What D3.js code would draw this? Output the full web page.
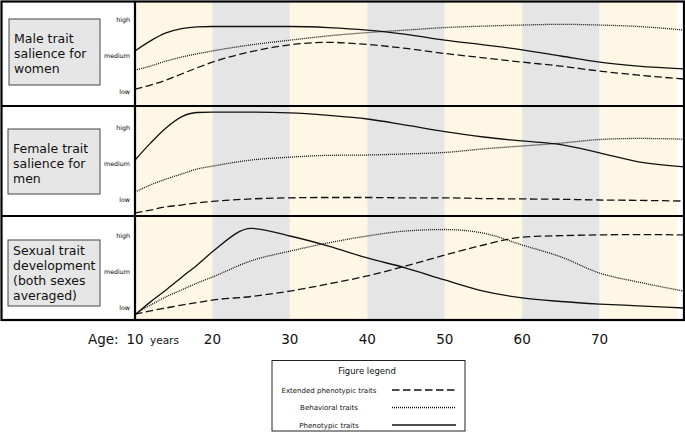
<!DOCTYPE html>
<html>
<head>
<meta charset="utf-8">
<script src="https://cdn.jsdelivr.net/npm/d3@7"></script>
<style>
  body { margin: 0; background: #fff; }
  svg text { font-family: "DejaVu Sans", Verdana, sans-serif; }
</style>
</head>
<body>
<script>
var ages = [10, 12, 14, 16, 18, 20, 25, 30, 35, 40, 45, 50, 55, 60, 65, 70, 75, 80.9];
var decades = [10, 20, 30, 40, 50, 60, 70];
var levels = ["low", "medium", "high"];

// levels: 0 = low, 1 = medium, 2 = high
var maleSolid  = [1.14, 1.42, 1.64, 1.76, 1.81, 1.82, 1.82, 1.82, 1.79, 1.72, 1.60, 1.44, 1.31, 1.17, 1.00, 0.83, 0.72, 0.64];
var maleDotted = [0.61, 0.72, 0.86, 0.97, 1.06, 1.14, 1.31, 1.44, 1.56, 1.65, 1.72, 1.79, 1.83, 1.86, 1.88, 1.86, 1.82, 1.72];
var maleDashed = [0.08, 0.19, 0.33, 0.50, 0.67, 0.83, 1.12, 1.31, 1.38, 1.32, 1.21, 1.07, 0.95, 0.83, 0.72, 0.58, 0.47, 0.36];

var femaleSolid  = [1.11, 1.58, 2.00, 2.31, 2.43, 2.44, 2.44, 2.42, 2.35, 2.25, 2.08, 1.90, 1.75, 1.64, 1.54, 1.31, 1.06, 0.92];
var femaleDotted = [0.22, 0.42, 0.58, 0.72, 0.86, 0.94, 1.11, 1.19, 1.24, 1.25, 1.28, 1.32, 1.42, 1.50, 1.58, 1.68, 1.71, 1.69];
var femaleDashed = [-0.36, -0.28, -0.19, -0.14, -0.08, -0.04, 0.03, 0.06, 0.07, 0.07, 0.06, 0.06, 0.04, 0.03, 0.02, 0.00, -0.01, -0.03];

var devSolid  = [-0.19, 0.17, 0.50, 0.85, 1.19, 1.56, 2.21, 2.00, 1.72, 1.39, 1.11, 0.78, 0.47, 0.28, 0.18, 0.11, 0.06, 0.00];
var devDotted = [-0.17, 0.08, 0.31, 0.50, 0.69, 0.86, 1.31, 1.58, 1.81, 2.00, 2.14, 2.18, 2.08, 1.75, 1.42, 0.97, 0.72, 0.47];
var devDashed = [-0.17, -0.08, 0.00, 0.08, 0.15, 0.22, 0.32, 0.47, 0.67, 0.89, 1.17, 1.47, 1.75, 1.97, 2.01, 2.03, 2.04, 2.03];

var rowTitles = [
  ["Male trait", "salience for", "women"],
  ["Female trait", "salience for", "men"],
  ["Sexual trait", "development", "(both sexes", "averaged)"]
];
var rowSeries = [
  [maleDashed, maleDotted, maleSolid],
  [femaleDashed, femaleDotted, femaleSolid],
  [devDashed, devDotted, devSolid]
];
var legendNames = ["Extended phenotypic traits", "Behavioral traits", "Phenotypic traits"];

// layout of the three rows (pixels)
var rows = [
  {top: 1,   bottom: 106, low: 92,  high: 20,  box: [9, 19, 91, 66]},
  {top: 106, bottom: 216, low: 200, high: 128, box: [8, 129, 92, 65]},
  {top: 216, bottom: 320, low: 308, high: 236, box: [8, 240, 92, 66]}
];
var styles = [
  {dash: "7.5,3.5", width: 1.3},
  {dash: "1,1", width: 1.3},
  {dash: null, width: 1.3}
];

var width = 685, height = 432;
var plotLeft = 135, plotRight = 684;

var svg = d3.select("body").append("svg")
    .attr("width", width)
    .attr("height", height);

var x = d3.scaleLinear()
    .domain([10, 80.9])
    .range([plotLeft, plotRight]);

// alternating age bands
svg.selectAll("rect.band")
    .data(decades)
    .enter().append("rect")
    .attr("class", "band")
    .attr("x", function(d){ return x(d); })
    .attr("y", 1)
    .attr("width", function(d){ return Math.min(x(d + 10), plotRight) - x(d); })
    .attr("height", 319)
    .attr("fill", function(d, i){ return i % 2 == 0 ? "#fef7e5" : "#e5e5e5"; });

rows.forEach(function(r, i){
    var y = d3.scaleLinear().domain([0, 2]).range([r.low, r.high]);

    // left label box
    svg.append("rect")
        .attr("x", r.box[0]).attr("y", r.box[1])
        .attr("width", r.box[2]).attr("height", r.box[3])
        .attr("fill", "#e6e6e6")
        .attr("stroke", "#444")
        .attr("stroke-width", 1);
    var t = svg.append("text")
        .attr("x", r.box[0] + 5)
        .attr("y", r.box[1] + 24 - (rowTitles[i].length == 4 ? 9 : 0))
        .attr("font-size", 12.5)
        .attr("fill", "#111");
    rowTitles[i].forEach(function(line, j){
        t.append("tspan")
            .attr("x", r.box[0] + 5)
            .attr("dy", j == 0 ? 0 : 15)
            .text(line);
    });

    // level labels
    svg.selectAll("text.lvl" + i)
        .data(levels)
        .enter().append("text")
        .attr("class", "lvl" + i)
        .attr("x", 130)
        .attr("y", function(d, k){ return y(k) + 2; })
        .attr("text-anchor", "end")
        .attr("font-size", 6.3)
        .attr("fill", "#000")
        .text(function(d){ return d; });

    var line = d3.line()
        .x(function(d, k){ return x(ages[k]); })
        .y(function(d){ return y(d); })
        .curve(d3.curveMonotoneX);

    var clipId = "clip" + i;
    svg.append("clipPath").attr("id", clipId)
        .append("rect")
        .attr("x", plotLeft).attr("y", r.top)
        .attr("width", plotRight - plotLeft).attr("height", r.bottom - r.top);

    svg.append("g")
        .attr("clip-path", "url(#" + clipId + ")")
        .selectAll("path")
        .data(rowSeries[i])
        .enter().append("path")
        .attr("d", line)
        .attr("fill", "none")
        .attr("stroke", "#111")
        .attr("stroke-width", function(d, k){ return styles[k].width; })
        .attr("stroke-dasharray", function(d, k){ return styles[k].dash; });
});

// frame
var frame = svg.append("g")
    .attr("stroke", "#000")
    .attr("stroke-width", 2.2)
    .attr("fill", "none");
frame.append("rect").attr("x", 1.5).attr("y", 1.5).attr("width", 682.5).attr("height", 318.5);
frame.append("line").attr("x1", plotLeft).attr("x2", plotLeft).attr("y1", 1).attr("y2", 320);
rows.slice(1).forEach(function(r){
    frame.append("line").attr("x1", 1).attr("x2", 684).attr("y1", r.top).attr("y2", r.top);
});

// age axis
svg.append("text")
    .attr("x", 88).attr("y", 344)
    .attr("font-size", 13.5)
    .attr("fill", "#111")
    .text("Age:");
svg.selectAll("text.age")
    .data(decades)
    .enter().append("text")
    .attr("class", "age")
    .attr("x", function(d){ return x(d); })
    .attr("y", 344)
    .attr("text-anchor", "middle")
    .attr("font-size", 13.5)
    .attr("fill", "#111")
    .text(function(d){ return d; });
svg.append("text")
    .attr("x", 150).attr("y", 344)
    .attr("font-size", 10.5)
    .attr("fill", "#111")
    .text("years");

// legend
var lg = svg.append("g");
lg.append("rect")
    .attr("x", 272).attr("y", 360.5)
    .attr("width", 193).attr("height", 70.5)
    .attr("fill", "#fff")
    .attr("stroke", "#222")
    .attr("stroke-width", 1);
lg.append("text")
    .attr("x", 367).attr("y", 374)
    .attr("text-anchor", "middle")
    .attr("font-size", 8.5)
    .attr("fill", "#111")
    .text("Figure legend");
legendNames.forEach(function(name, k){
    var yy = 390 + k * 17.5;
    lg.append("text")
        .attr("x", 329).attr("y", yy + 2.5)
        .attr("text-anchor", "middle")
        .attr("font-size", 7)
        .attr("fill", "#111")
        .text(name);
    lg.append("line")
        .attr("x1", 392).attr("x2", 456)
        .attr("y1", yy).attr("y2", yy)
        .attr("stroke", "#111")
        .attr("stroke-width", styles[k].width)
        .attr("stroke-dasharray", styles[k].dash);
});
</script>
</body>
</html>
